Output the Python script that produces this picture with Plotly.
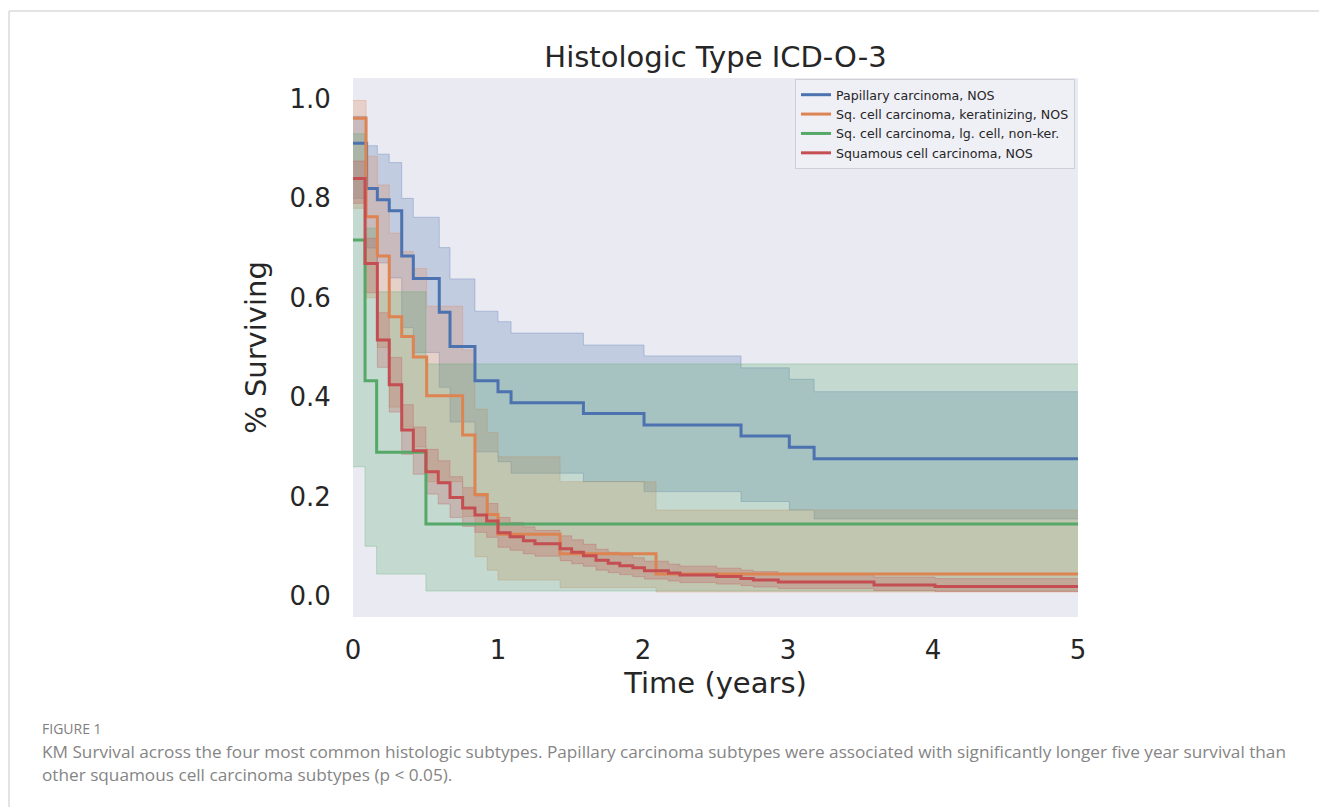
import plotly.graph_objects as go

# Kaplan-Meier estimates (time in years, survival fraction) with 95% CI bounds
pap_t = [0, 0.094, 0.168, 0.25, 0.336, 0.416, 0.595, 0.669, 0.841, 1.0, 1.09, 1.589, 2.007, 2.676, 3.009, 3.18]
pap_s = [0.911, 0.820, 0.797, 0.775, 0.684, 0.639, 0.571, 0.502, 0.433, 0.411, 0.389, 0.367, 0.344, 0.322, 0.299, 0.276]
pap_hi = [0.965, 0.906, 0.889, 0.872, 0.800, 0.762, 0.701, 0.638, 0.573, 0.552, 0.529, 0.505, 0.483, 0.459, 0.436, 0.411]
pap_lo = [0.80, 0.70, 0.67, 0.64, 0.54, 0.49, 0.42, 0.35, 0.29, 0.27, 0.247, 0.23, 0.21, 0.19, 0.173, 0.155]

ker_t = [0, 0.09, 0.168, 0.25, 0.336, 0.416, 0.508, 0.756, 0.841, 0.926, 1.0, 1.428, 2.09]
ker_s = [0.961, 0.763, 0.684, 0.562, 0.522, 0.481, 0.403, 0.324, 0.204, 0.164, 0.124, 0.085, 0.044]
ker_hi = [0.997, 0.885, 0.827, 0.730, 0.693, 0.659, 0.583, 0.495, 0.376, 0.329, 0.280, 0.230, 0.173]
ker_lo = [0.78, 0.60, 0.50, 0.38, 0.34, 0.30, 0.23, 0.16, 0.079, 0.052, 0.032, 0.017, 0.008]

lgc_t = [0, 0.083, 0.163, 0.503]
lgc_s = [0.716, 0.433, 0.289, 0.145]
lgc_hi = [0.93, 0.74, 0.612, 0.467]
lgc_lo = [0.26, 0.10, 0.044, 0.01]

scc_t = [0, 0.083, 0.168, 0.25, 0.336, 0.416, 0.503, 0.588, 0.669, 0.756, 0.841, 0.922, 1.0, 1.083,
         1.175, 1.255, 1.428, 1.508, 1.589, 1.676, 1.76, 1.84, 1.93, 2.01, 2.175, 2.255, 2.508, 2.676,
         2.761, 2.933, 3.593, 4.014]
scc_s = [0.84, 0.669, 0.515, 0.425, 0.334, 0.292, 0.25, 0.228, 0.198, 0.177, 0.163, 0.151, 0.127, 0.119,
         0.111, 0.105, 0.095, 0.088, 0.081, 0.072, 0.066, 0.061, 0.057, 0.051, 0.046, 0.042, 0.039, 0.035,
         0.032, 0.028, 0.022, 0.019]
scc_hi = [0.875, 0.72, 0.57, 0.48, 0.385, 0.34, 0.295, 0.272, 0.24, 0.218, 0.200, 0.186, 0.158, 0.148,
          0.139, 0.132, 0.121, 0.113, 0.104, 0.094, 0.088, 0.082, 0.077, 0.070, 0.064, 0.060, 0.056, 0.052,
          0.049, 0.044, 0.038, 0.035]
scc_lo = [0.79, 0.61, 0.46, 0.37, 0.285, 0.245, 0.205, 0.185, 0.158, 0.140, 0.128, 0.118, 0.098, 0.092,
          0.085, 0.080, 0.071, 0.065, 0.060, 0.052, 0.047, 0.043, 0.039, 0.034, 0.030, 0.027, 0.024, 0.021,
          0.018, 0.015, 0.011, 0.009]

T_END = 5.0

series = [
    ("Papillary carcinoma, NOS", (76, 114, 176), pap_t, pap_s, pap_lo, pap_hi),
    ("Sq. cell carcinoma, keratinizing, NOS", (221, 132, 82), ker_t, ker_s, ker_lo, ker_hi),
    ("Sq. cell carcinoma, lg. cell, non-ker.", (85, 168, 104), lgc_t, lgc_s, lgc_lo, lgc_hi),
    ("Squamous cell carcinoma, NOS", (196, 78, 82), scc_t, scc_s, scc_lo, scc_hi),
]


def extend(t, v):
    # carry the last estimate out to the end of follow-up
    return list(t) + [T_END], list(v) + [v[-1]]


fig = go.Figure()

for name, (r, g, b), t, s, lo, hi in series:
    band = f"rgba({r},{g},{b},0.25)"
    edge = f"rgba({r},{g},{b},0.3)"
    tx, lo_x = extend(t, lo)
    _, hi_x = extend(t, hi)
    fig.add_trace(go.Scatter(x=tx, y=lo_x, mode="lines", line=dict(color=edge, width=1, shape="hv"),
                             showlegend=False, hoverinfo="skip"))
    fig.add_trace(go.Scatter(x=tx, y=hi_x, mode="lines", line=dict(color=edge, width=1, shape="hv"),
                             fill="tonexty", fillcolor=band, showlegend=False, hoverinfo="skip"))

for name, (r, g, b), t, s, lo, hi in series:
    tx, sx = extend(t, s)
    fig.add_trace(go.Scatter(x=tx, y=sx, mode="lines", name=name,
                             line=dict(color=f"rgb({r},{g},{b})", width=3, shape="hv")))

# plot-area geometry in pixels, used to place the caption and frame
L, R, TOP, BOT = 353, 1078, 78, 617
W, H = R - L, BOT - TOP


def px(xp):
    return (xp - L) / W


def py(yp):
    return (BOT - yp) / H


text_color = "#262626"
fig.update_layout(
    width=1319, height=807,
    margin=dict(l=L, r=1319 - R, t=TOP, b=807 - BOT),
    paper_bgcolor="white",
    plot_bgcolor="#EAEAF2",
    font=dict(family="DejaVu Sans", color=text_color),
    title=dict(text="Histologic Type ICD-O-3", x=0.5, xref="paper", y=1 - 57 / 807, yanchor="middle",
               font=dict(size=29, color=text_color)),
    xaxis=dict(range=[0, 5], tickvals=[0, 1, 2, 3, 4, 5], showgrid=False, zeroline=False,
               showline=False, ticks="outside", ticklen=10, tickcolor="rgba(0,0,0,0)",
               tickfont=dict(size=26, color=text_color),
               title=dict(text="Time (years)", font=dict(size=29, color=text_color), standoff=8)),
    yaxis=dict(range=[-0.0423, 1.0422], tickvals=[0, 0.2, 0.4, 0.6, 0.8, 1.0], tickformat=".1f",
               showgrid=False, zeroline=False, showline=False, ticks="outside", ticklen=16,
               tickcolor="rgba(0,0,0,0)", tickfont=dict(size=26, color=text_color),
               title=dict(text="% Surviving", font=dict(size=29, color=text_color), standoff=14)),
    legend=dict(x=px(1075), y=py(79), xanchor="right", yanchor="top", traceorder="normal",
                bgcolor="rgba(240,240,246,0.9)", bordercolor="#cfcfd6", borderwidth=1,
                font=dict(size=12.6, color=text_color), itemwidth=30, tracegroupgap=0),
    showlegend=True,
)

# figure frame lines
fig.add_shape(type="line", xref="paper", yref="paper", x0=px(9), x1=px(1319), y0=py(11), y1=py(11),
              line=dict(color="#c8c8c8", width=1))
fig.add_shape(type="line", xref="paper", yref="paper", x0=px(9), x1=px(9), y0=py(11), y1=py(807),
              line=dict(color="#c8c8c8", width=1))

caption_font = "Open Sans"
fig.add_annotation(text="FIGURE 1", xref="paper", yref="paper", x=px(40), y=py(728),
                   xanchor="left", yanchor="middle", showarrow=False,
                   font=dict(family=caption_font, size=14, color="#808080"))
fig.add_annotation(text="KM Survival across the four most common histologic subtypes. Papillary carcinoma "
                        "subtypes were associated with significantly longer five year survival than",
                   xref="paper", yref="paper", x=px(40), y=py(751), xanchor="left", yanchor="middle",
                   showarrow=False, font=dict(family=caption_font, size=17.2, color="#858585"))
fig.add_annotation(text="other squamous cell carcinoma subtypes (p < 0.05).",
                   xref="paper", yref="paper", x=px(40), y=py(774), xanchor="left", yanchor="middle",
                   showarrow=False, font=dict(family=caption_font, size=17.2, color="#858585"))

fig.write_html("out.html")
